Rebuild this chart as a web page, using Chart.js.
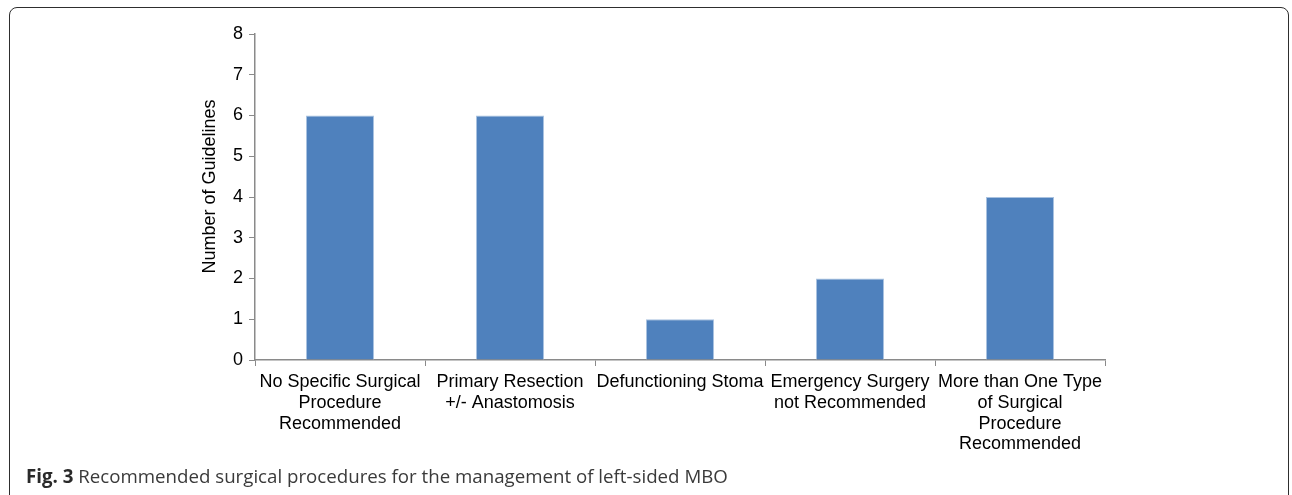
<!DOCTYPE html>
<html>
<head>
<meta charset="utf-8">
<script src="https://cdn.jsdelivr.net/npm/chart.js@4.4.0/dist/chart.umd.min.js"></script>
<style>
  html, body { margin: 0; padding: 0; background: #fff; width: 1292px; height: 495px; overflow: hidden; }
  #frame { position: absolute; left: 9px; top: 7px; width: 1280px; height: 520px; border: 1.8px solid #2e2e2e; border-radius: 8px; box-sizing: border-box; }
  #wrap { position: absolute; left: 0; top: 0; width: 1292px; height: 495px; }
  #caption { position: absolute; left: 26px; top: 463px; font-family: "Open Sans", sans-serif; font-size: 18.7px; color: #3a3a3a; white-space: nowrap; }
  #caption b { color: #2a2a2a; font-weight: 700; }
</style>
</head>
<body>
<div id="frame"></div>
<div id="wrap"><canvas id="c" width="1292" height="495"></canvas></div>
<div id="caption"><b>Fig. 3</b> Recommended surgical procedures for the management of left-sided MBO</div>
<script>
const categories = [
  ["No Specific Surgical", "Procedure", "Recommended"],
  ["Primary Resection", "+/- Anastomosis"],
  "Defunctioning Stoma",
  ["Emergency Surgery", "not Recommended"],
  ["More than One Type", "of Surgical", "Procedure", "Recommended"]
];
const guidelineCounts = [6, 6, 1, 2, 4];
const yTicks = [0, 1, 2, 3, 4, 5, 6, 7, 8];
const yTitle = "Number of Guidelines";

const axisColor = "#8a8a8a";
const fam = "'Liberation Sans', Arial, sans-serif";

const yTitlePlugin = {
  id: "yTitle",
  afterDraw(chart) {
    const ctx = chart.ctx;
    ctx.save();
    ctx.translate(210, 186.5);
    ctx.rotate(-Math.PI / 2);
    ctx.font = "18px " + fam;
    ctx.fillStyle = "#000";
    ctx.textAlign = "center";
    ctx.textBaseline = "middle";
    ctx.fillText(yTitle, 0, 0);
    ctx.restore();
  }
};

new Chart(document.getElementById("c"), {
  type: "bar",
  data: {
    labels: categories,
    datasets: [{
      data: guidelineCounts,
      backgroundColor: "#4f81bd",
      borderColor: "#a9c2e0",
      borderWidth: 1,
      barPercentage: 0.4,
      categoryPercentage: 1.0
    }]
  },
  plugins: [yTitlePlugin],
  options: {
    responsive: false,
    animation: false,
    devicePixelRatio: 1,
    layout: { padding: { left: 190, top: 34, right: 187, bottom: 0 } },
    plugins: { legend: { display: false }, tooltip: { enabled: false } },
    scales: {
      x: {
        grid: { display: true, drawOnChartArea: false, drawTicks: true, tickLength: 6, color: axisColor, offset: true },
        border: { display: true, color: axisColor, width: 1.5 },
        ticks: { color: "#000", font: { family: fam, size: 18, lineHeight: 1.15 }, padding: 6, maxRotation: 0, minRotation: 0, autoSkip: false },
        afterFit: s => { s.height = 135; }
      },
      y: {
        min: 0, max: 8,
        afterBuildTicks: s => { s.ticks = yTicks.map(v => ({ value: v })); },
        grid: { display: true, drawOnChartArea: false, drawTicks: true, tickLength: 6, color: axisColor },
        border: { display: true, color: axisColor, width: 1.5 },
        ticks: { color: "#000", font: { family: fam, size: 18 }, padding: 6 },
        title: { display: false },
        afterFit: s => { s.width = 65; }
      }
    }
  }
});
</script>
</body>
</html>
